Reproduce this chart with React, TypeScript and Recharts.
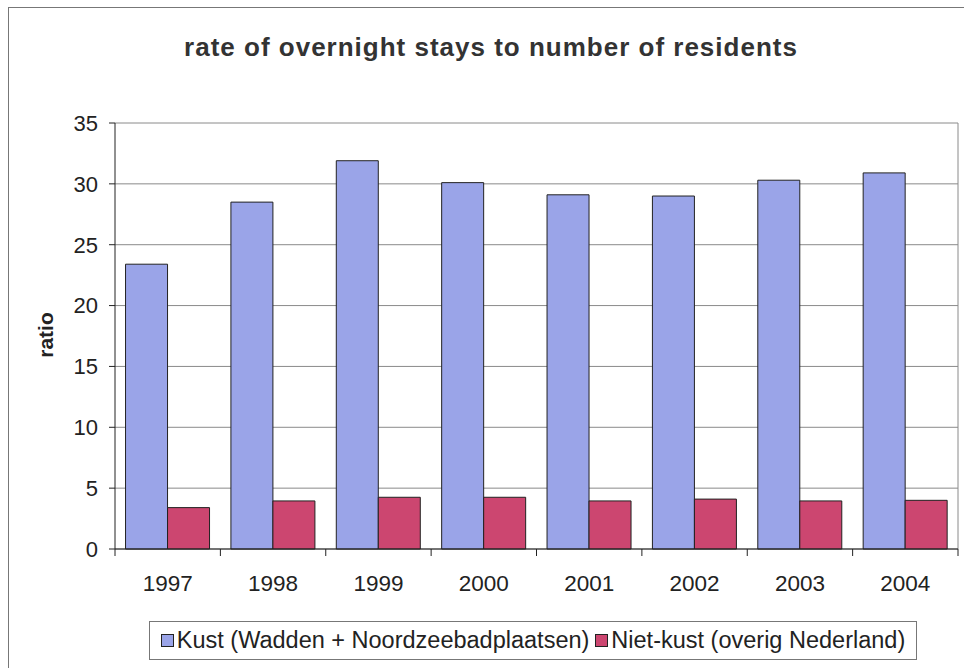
import { BarChart, Bar, XAxis, YAxis, CartesianGrid, Legend } from 'recharts'

const years = ['1997', '1998', '1999', '2000', '2001', '2002', '2003', '2004']
const kust = [23.4, 28.5, 31.9, 30.1, 29.1, 29.0, 30.3, 30.9]
const nietKust = [3.4, 3.95, 4.25, 4.25, 3.95, 4.1, 3.95, 4.0]
const yTicks = [0, 5, 10, 15, 20, 25, 30, 35]

const kustName = 'Kust (Wadden + Noordzeebadplaatsen)'
const nietKustName = 'Niet-kust (overig Nederland)'

const data = years.map((year, i) => ({ year, kust: kust[i], nietKust: nietKust[i] }))

const W = 964
const H = 668
const margin = { top: 123, right: 6, bottom: 0, left: 0 }
const xAxisHeight = 119
const yAxisWidth = 115
const plotWidth = W - margin.left - margin.right - yAxisWidth
const band = plotWidth / years.length

const font = 'Arial, "Liberation Sans", sans-serif'
const blue = '#9aa4e8'
const red = '#cc4670'

// year label plus the tick marks that sit between the categories
function YearTick(props: any) {
  const { x, y, payload, index } = props
  const last = index === years.length - 1
  return (
    <g>
      <line x1={x - band / 2} y1={y} x2={x - band / 2} y2={y + 7} stroke="#222" />
      {last && <line x1={x + band / 2} y1={y} x2={x + band / 2} y2={y + 7} stroke="#222" />}
      <text x={x} y={y + 26} dy="0.71em" textAnchor="middle" fontSize={22.5} fontFamily={font} fill="#222">
        {payload.value}
      </text>
    </g>
  )
}

function LegendBox() {
  const item = (color: string, label: string) => (
    <span style={{ display: 'inline-flex', alignItems: 'center', margin: '0 3px' }}>
      <span
        style={{
          display: 'inline-block',
          width: 11,
          height: 11,
          background: color,
          border: '1px solid #222',
          marginRight: 3,
        }}
      />
      {label}
    </span>
  )
  return (
    <div
      style={{
        border: '1px solid #777',
        height: 39,
        boxSizing: 'border-box',
        display: 'flex',
        alignItems: 'center',
        justifyContent: 'center',
        fontFamily: font,
        fontSize: 23.5,
        color: '#222',
        whiteSpace: 'nowrap',
      }}
    >
      {item(blue, kustName)}
      {item(red, nietKustName)}
    </div>
  )
}

export default function App() {
  return (
    <div style={{ position: 'absolute', left: 0, top: 0, width: W, height: H, background: '#fff', overflow: 'hidden' }}>
      <div
        style={{
          position: 'absolute',
          left: 8,
          top: 7,
          width: W,
          height: H,
          borderLeft: '1px solid #777',
          borderTop: '1px solid #777',
        }}
      />
      <div
        style={{
          position: 'absolute',
          left: 0,
          width: 982,
          top: 32,
          textAlign: 'center',
          fontFamily: font,
          fontWeight: 'bold',
          fontSize: 26,
          letterSpacing: 1,
          color: '#333',
        }}
      >
        rate of overnight stays to number of residents
      </div>
      <div
        style={{
          position: 'absolute',
          left: 46,
          top: 335,
          transform: 'translate(-50%, -50%) rotate(-90deg)',
          fontFamily: font,
          fontWeight: 'bold',
          fontSize: 21,
          color: '#222',
        }}
      >
        ratio
      </div>
      <div style={{ position: 'absolute', left: 0, top: 0 }}>
        <BarChart
          width={W}
          height={H}
          data={data}
          margin={margin}
          barCategoryGap="10%"
          barGap={0}
        >
          <CartesianGrid
            vertical={true}
            verticalCoordinatesGenerator={({ offset }: any) => [offset.left + offset.width]}
            stroke="#8a8a8a"
          />
          <XAxis
            dataKey="year"
            tick={<YearTick />}
            tickLine={false}
            tickSize={0}
            tickMargin={0}
            axisLine={{ stroke: '#222' }}
            height={xAxisHeight}
            interval={0}
          />
          <YAxis
            domain={[0, 35]}
            ticks={yTicks}
            width={yAxisWidth}
            tickSize={6}
            tickMargin={11}
            axisLine={{ stroke: '#222' }}
            tickLine={{ stroke: '#222' }}
            tick={{ fontSize: 22, fontFamily: font, fill: '#222' }}
          />
          <Legend
            layout="horizontal"
            verticalAlign="middle"
            align="center"
            content={<LegendBox />}
            wrapperStyle={{ left: 149, top: 621, width: 768, bottom: 'auto' }}
          />
          <Bar dataKey="kust" name={kustName} fill={blue} stroke="#222" isAnimationActive={false} />
          <Bar dataKey="nietKust" name={nietKustName} fill={red} stroke="#222" isAnimationActive={false} />
        </BarChart>
      </div>
    </div>
  )
}
